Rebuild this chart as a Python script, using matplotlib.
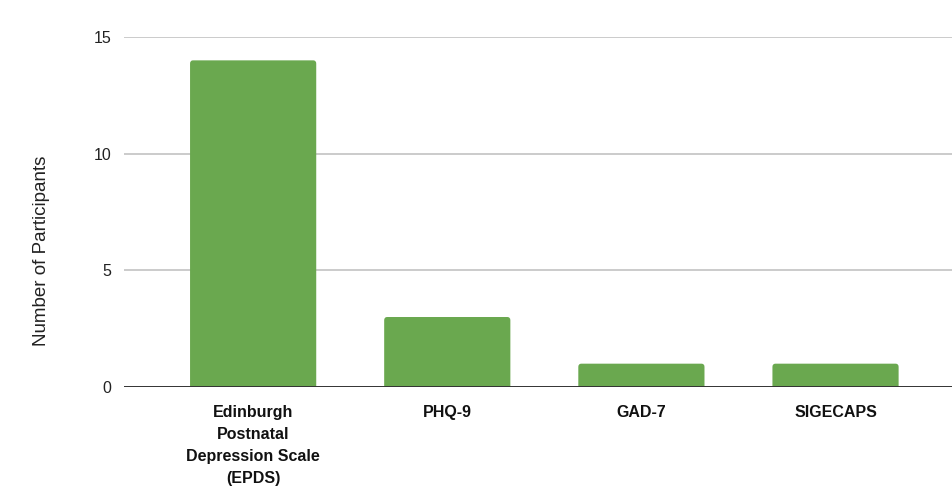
import matplotlib
matplotlib.use("Agg")
import matplotlib.pyplot as plt
from matplotlib.patches import FancyBboxPatch

# screening tools and how many participants used each
tools = ["Edinburgh\nPostnatal\nDepression Scale\n(EPDS)", "PHQ-9", "GAD-7", "SIGECAPS"]
participants = [14, 3, 1, 1]
yticks = [0, 5, 10, 15]

plt.rcParams["font.family"] = ["Liberation Sans", "DejaVu Sans"]

fig = plt.figure(figsize=(9.52, 4.91), dpi=100)
ax = fig.add_axes([0.1303, 0.2118, 0.8697, 0.7128])

x = list(range(len(tools)))
bars = ax.bar(x, participants, width=0.65, color="#6aa84f", zorder=3)

# swap the square bars for ones with slightly rounded tops
for b in bars:
    x0, w, h = b.get_x(), b.get_width(), b.get_height()
    b.set_visible(False)
    ax.add_patch(FancyBboxPatch((x0, -1), w, h + 1,
                                boxstyle="round,pad=0,rounding_size=0.016",
                                mutation_aspect=8.5, fc="#6aa84f",
                                ec="none", zorder=3, clip_on=True))

ax.set_ylim(0, 15)
ax.set_xlim(-0.665, 3.60)
ax.set_yticks(yticks)
ax.set_yticklabels([str(t) for t in yticks], fontsize=11.5, color="#222222")
ax.tick_params(axis="y", length=0, pad=9)
ax.set_xticks([])

for yt in yticks[1:]:
    ax.axhline(yt, color="#bdbdbd", lw=1.1, zorder=1)
ax.axhline(0, color="#333333", lw=1.4, zorder=4)

for xi, lab in zip(x, tools):
    ax.text(xi, -0.75, lab, ha="center", va="top", fontsize=11.5,
            fontweight="bold", color="#111111", linespacing=1.6)

for s in ax.spines.values():
    s.set_visible(False)

ax.set_ylabel("Number of Participants", fontsize=13.5, color="#222222")
ax.yaxis.set_label_coords(-0.09, 0.39)

fig.savefig("out.png", dpi=100)
